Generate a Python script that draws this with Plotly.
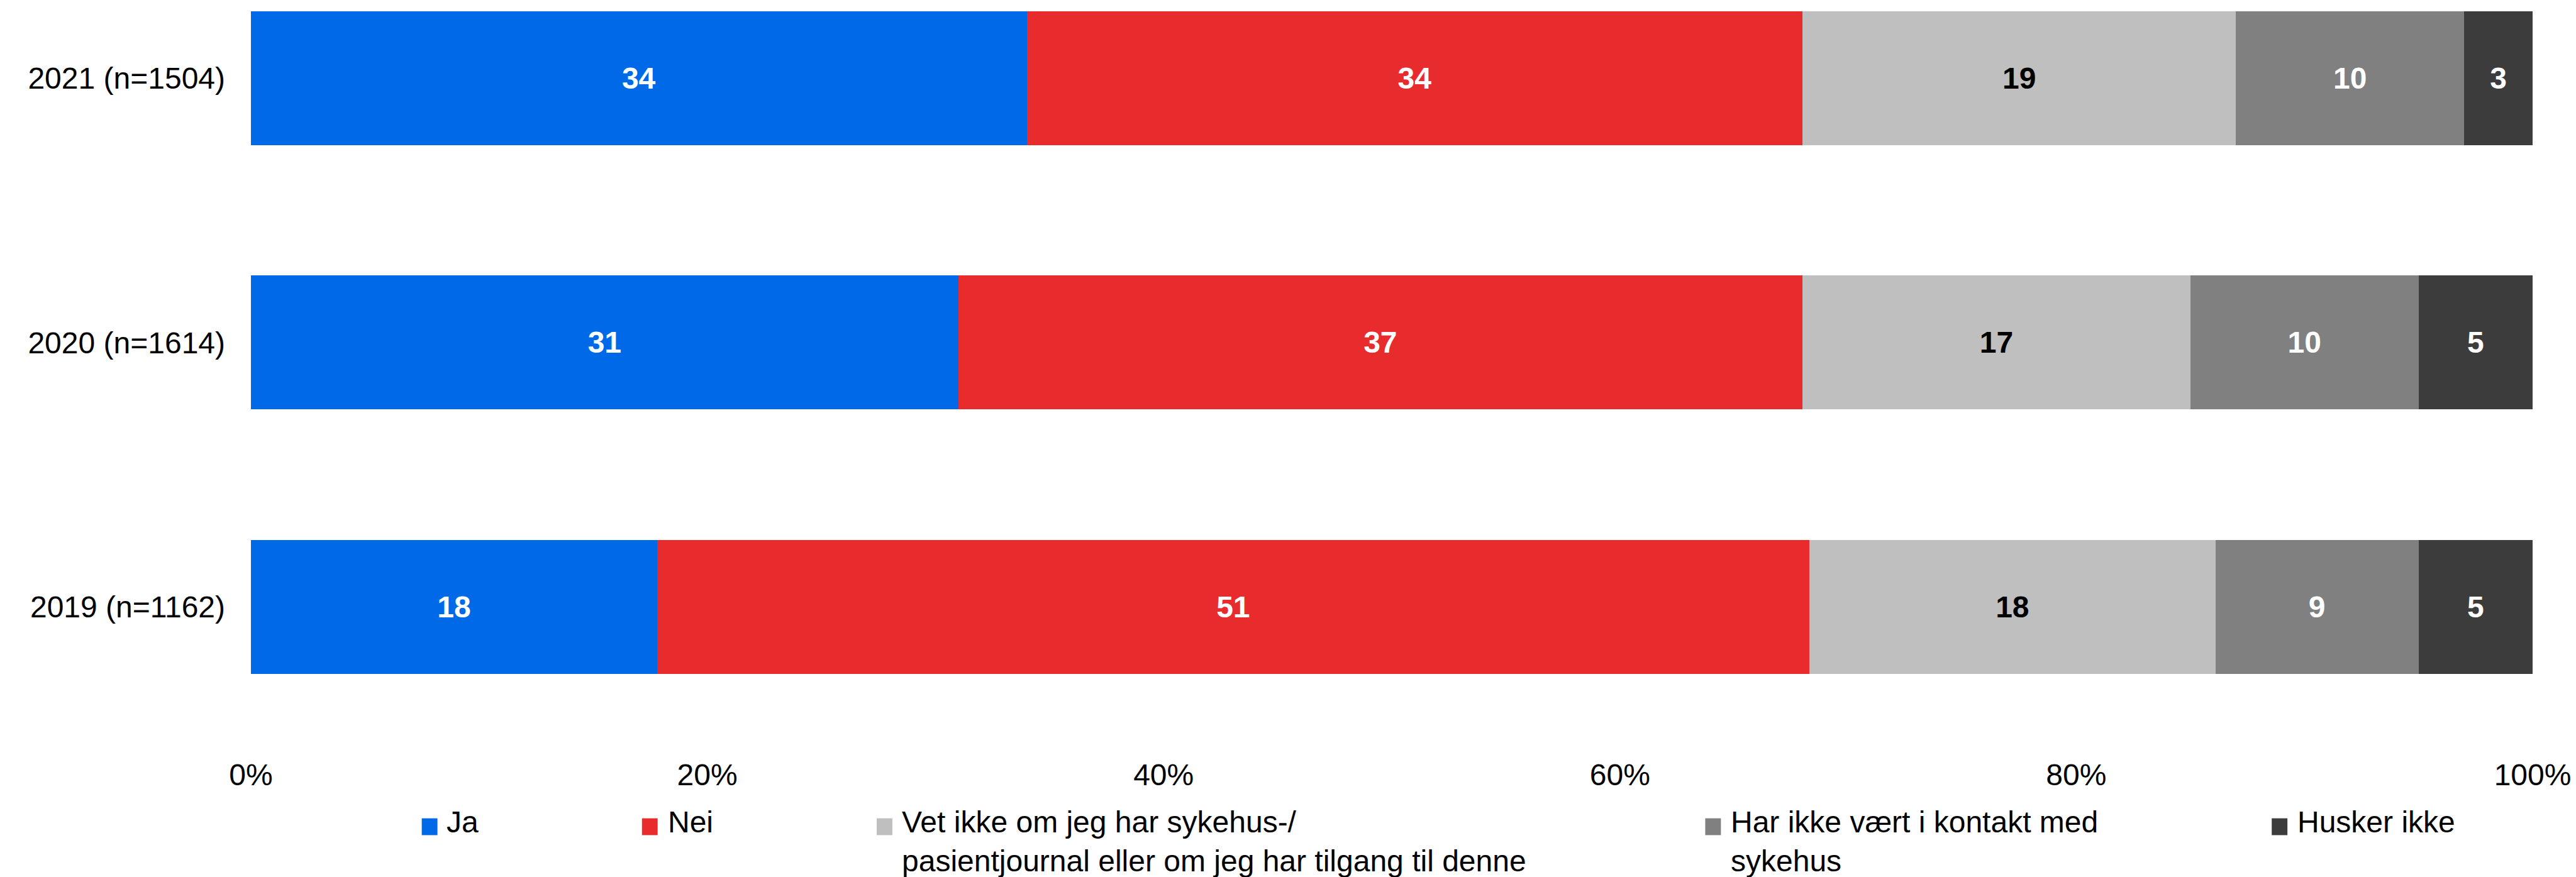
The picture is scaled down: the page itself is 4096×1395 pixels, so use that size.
import plotly.graph_objects as go

# ---------------- data ----------------
categories = ["2019 (n=1162)", "2020 (n=1614)", "2021 (n=1504)"]
series_names = [
    "Ja",
    "Nei",
    "Vet ikke om jeg har sykehus-/<br>pasientjournal eller om jeg har tilgang til denne",
    "Har ikke vært i kontakt med<br>sykehus",
    "Husker ikke",
]
ja = [17.8, 31.0, 34.0]
nei = [50.5, 37.0, 34.0]
vet_ikke = [17.8, 17.0, 19.0]
har_ikke = [8.9, 10.0, 10.0]
husker_ikke = [5.0, 5.0, 3.0]

ja_labels = ["18", "31", "34"]
nei_labels = ["51", "37", "34"]
vet_ikke_labels = ["18", "17", "19"]
har_ikke_labels = ["9", "10", "10"]
husker_ikke_labels = ["5", "5", "3"]

x_tickvals = [0, 20, 40, 60, 80, 100]
x_ticktext = ["0%", "20%", "40%", "60%", "80%", "100%"]

# ---------------- style ----------------
colors = ["#0069E8", "#E82C2E", "#BFBFBF", "#808080", "#3C3C3C"]
text_colors = ["white", "white", "black", "white", "white"]
FONT = "Liberation Sans, Arial, sans-serif"
FS = 48

W, H = 4096, 1395
s = W / 4434.0
plot_left = 432 * s
plot_right = 4359 * s
plot_top = 20 * s
plot_bottom = 1190.0
unit = 455 * s
ymax = 2 + (135 * s - plot_top) / unit
ymin = -(plot_bottom - 1045 * s) / unit
PW = plot_right - plot_left
PH = plot_bottom - plot_top


def px_x(X):
    return (X - plot_left) / PW


def px_y(Y):
    return (plot_bottom - Y) / PH


values = [ja, nei, vet_ikke, har_ikke, husker_ikke]
labels = [ja_labels, nei_labels, vet_ikke_labels, har_ikke_labels, husker_ikke_labels]

fig = go.Figure()
for name, vals, lab, c, tc in zip(series_names, values, labels, colors, text_colors):
    fig.add_trace(go.Bar(
        y=categories, x=vals, orientation="h", name=name,
        marker=dict(color=c, line=dict(width=0)),
        width=230 / 455,
        text=lab, textposition="inside", insidetextanchor="middle",
        textangle=0, constraintext="none",
        textfont=dict(family=FONT, size=FS, color=tc, weight="bold"),
        showlegend=False, hoverinfo="skip",
    ))

# manual legend (reference pixel positions scaled)
marker_lefts = [726, 1105, 1509, 2935, 3910]
text_lefts = [766, 1148, 1550, 2977, 3952]
shapes = []
annotations = []
for name, c, ml, tl in zip(series_names, colors, marker_lefts, text_lefts):
    x0 = ml * s
    shapes.append(dict(type="rect", xref="paper", yref="paper",
                       x0=px_x(x0), x1=px_x(x0 + 27 * s),
                       y0=px_y(1409 * s), y1=px_y(1438 * s),
                       fillcolor=c, line=dict(width=0)))
    annotations.append(dict(xref="paper", yref="paper", x=px_x(tl * s),
                            y=px_y(1403 * s - 17), xanchor="left", yanchor="top",
                            text=name, showarrow=False, align="left",
                            font=dict(family=FONT, size=FS, color="black")))

fig.update_layout(
    width=W, height=H,
    margin=dict(l=plot_left, r=W - plot_right, t=plot_top, b=H - plot_bottom, autoexpand=False),
    barmode="stack",
    plot_bgcolor="white", paper_bgcolor="white",
    font=dict(family=FONT, size=FS, color="black"),
    xaxis=dict(range=[0, 100], tickvals=x_tickvals, ticktext=x_ticktext,
               showgrid=False, zeroline=False, showline=False, ticks="",
               ticklabelstandoff=10, fixedrange=True,
               tickfont=dict(family=FONT, size=FS, color="black")),
    yaxis=dict(range=[ymin, ymax], type="category", categoryorder="array",
               categoryarray=categories,
               showgrid=False, zeroline=False, showline=False, ticks="",
               ticklabelstandoff=40, fixedrange=True,
               tickfont=dict(family=FONT, size=FS, color="black")),
    shapes=shapes, annotations=annotations,
    showlegend=False,
)

fig.write_html("out.html", config={"displayModeBar": False},
               post_script="document.body.style.margin='0';document.body.style.overflow='hidden';")
